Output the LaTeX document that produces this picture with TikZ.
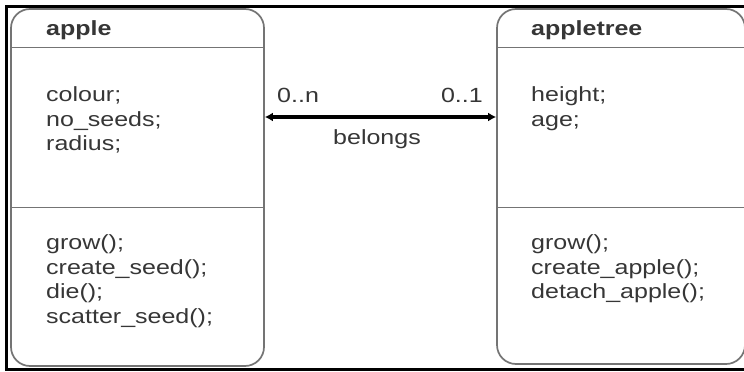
\documentclass[tikz,border=0pt]{standalone}
\usepackage{fontspec}
\setmainfont[FakeStretch=1.22]{Liberation Sans}
\usetikzlibrary{arrows.meta}
\definecolor{boxline}{HTML}{747474}
\definecolor{ink}{HTML}{363636}
\tikzset{
  classbox/.style={draw=boxline, line width=1.7pt, rounded corners=19pt,
    fill=white, inner sep=0pt},
  divider/.style={draw=boxline, line width=1.7pt},
  frameline/.style={draw=black, line width=3.2pt},
  members/.style={inner sep=0pt, anchor=north west, align=left, text=ink,
    font=\fontsize{20.5}{24.5}\selectfont},
  title/.style={inner sep=0pt, anchor=base west, text=ink,
    font=\fontsize{20.5}{24.5}\selectfont\bfseries},
  tag/.style={inner sep=0pt, text=ink, font=\fontsize{20.5}{24.5}\selectfont},
  assoc/.style={draw=black, line width=4pt,
    {Latex[length=8pt,width=9pt]}-{Latex[length=8pt,width=9pt]}}
}
\begin{document}
\begin{tikzpicture}[x=1pt,y=1pt]
\useasboundingbox (0,0) rectangle (744,-372);
\fill[white] (0,0) rectangle (744,-372);

% outer frame (top, left, bottom)
\draw[frameline] (5,-6.5) -- (744,-6.5);
\draw[frameline] (6.5,-5) -- (6.5,-371);
\draw[frameline] (5,-369.5) -- (744,-369.5);

% class boxes
\node[classbox, minimum width=253pt, minimum height=357pt] (apple) at (137.5,-187.5) {};
\node[classbox, minimum width=248pt, minimum height=355pt] (tree) at (621,-186.5) {};

% compartment dividers
\coordinate (hd) at (0,-47.5);
\coordinate (md) at (0,-207.5);
\draw[divider] (apple.west |- hd) -- (apple.east |- hd);
\draw[divider] (apple.west |- md) -- (apple.east |- md);
\draw[divider] (tree.west |- hd) -- (tree.east |- hd);
\draw[divider] (tree.west |- md) -- (tree.east |- md);

% apple
\node[title] (appleName) at (46,-35) {apple};
\node[members] (appleAttr) at (46,-86.5) {colour;\\no\_seeds;\\radius;};
\node[members] (appleOps) at (46,-234.5) {grow();\\create\_seed();\\die();\\scatter\_seed();};

% appletree
\node[title] (treeName) at (531,-35) {appletree};
\node[members] (treeAttr) at (531,-86.5) {height;\\age;};
\node[members] (treeOps) at (531,-234.5) {grow();\\create\_apple();\\detach\_apple();};

% association
\coordinate (ay) at (0,-117);
\draw[assoc] (apple.east |- ay) -- (tree.west |- ay);
\node[tag, anchor=base west] (multA) at (277,-102) {0..n};
\node[tag, anchor=base east] (multB) at (483,-102) {0..1};
\node[tag] (rel) at (377,-139) {belongs};
\end{tikzpicture}
\end{document}
